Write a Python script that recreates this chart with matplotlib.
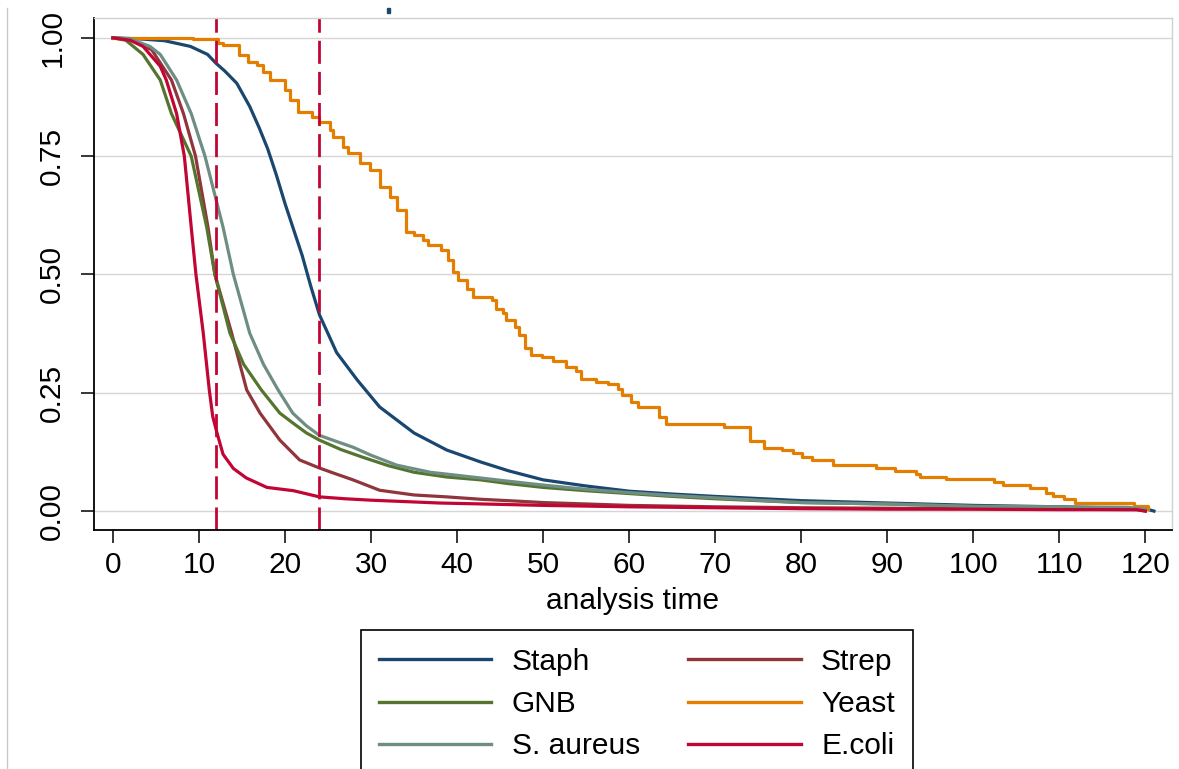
import matplotlib
matplotlib.use("Agg")
import matplotlib.pyplot as plt
from matplotlib.lines import Line2D

plt.rcParams['font.family'] = ['Liberation Sans', 'DejaVu Sans']

# survival curves (time, proportion)
staph_t = [0, 3, 6, 9, 11, 12, 13, 14.4, 15.9, 17, 18, 19, 20, 21, 22, 23, 24, 26, 28.4,
           31, 35, 38.8, 42.7, 46, 50, 55, 60, 65, 70, 80, 90, 100, 110, 120, 121]
staph_s = [1.0, 0.998, 0.994, 0.982, 0.965, 0.946, 0.93, 0.904, 0.855, 0.81, 0.765, 0.71,
           0.65, 0.595, 0.54, 0.475, 0.415, 0.335, 0.277, 0.22, 0.165, 0.129, 0.104,
           0.085, 0.066, 0.053, 0.042, 0.036, 0.031, 0.022, 0.017, 0.012, 0.009, 0.005, 0.0]

strep_t = [0, 2, 4.5, 6.8, 8.2, 9.6, 11.05, 11.85, 13.8, 15.55, 17.1, 19.4, 21.7, 24, 26,
           27.9, 31, 35, 38.8, 42.7, 47, 50, 55, 60, 70, 80, 90, 100, 110, 119, 120]
strep_s = [1.0, 0.997, 0.975, 0.911, 0.84, 0.75, 0.60, 0.50, 0.376, 0.256, 0.207, 0.15,
           0.108, 0.091, 0.078, 0.066, 0.044, 0.034, 0.03, 0.025, 0.021, 0.018, 0.015,
           0.012, 0.009, 0.007, 0.006, 0.005, 0.004, 0.003, 0.0]

gnb_t = [0, 1.5, 3.5, 5.5, 6.8, 9.1, 10.9, 11.85, 13.6, 15.2, 17.25, 19.4, 21, 22.5, 24,
         26.5, 29, 32, 35, 38.8, 42.7, 46, 50, 55, 60, 65, 70, 80, 90, 100, 110, 120]
gnb_s = [1.0, 0.995, 0.965, 0.911, 0.84, 0.75, 0.60, 0.50, 0.376, 0.31, 0.256, 0.207,
         0.185, 0.165, 0.15, 0.13, 0.114, 0.096, 0.082, 0.072, 0.066, 0.058, 0.05, 0.043,
         0.037, 0.031, 0.026, 0.018, 0.015, 0.01, 0.008, 0.004]

yeast_t = [0, 9.3, 12.2, 12.8, 14.6, 15.7, 16.7, 17.5, 18.2, 20.0, 20.6, 21.5, 23.1, 23.9,
           25.2, 25.6, 26.8, 27.3, 28.7, 29.9, 31.0, 32.2, 33.0, 34.1, 35.0, 36.0, 36.6,
           38.1, 38.9, 39.5, 40.1, 41.2, 41.8, 44.1, 44.5, 45.3, 45.7, 46.7, 47.2, 47.9,
           48.6, 49.9, 51.1, 52.7, 53.8, 54.4, 56.1, 57.5, 58.7, 59.2, 60.2, 61.0, 63.5,
           64.3, 71.0, 74.1, 75.7, 77.8, 79.0, 80.1, 81.3, 83.7, 88.7, 90.9, 93.3, 93.8,
           96.8, 102.4, 103.4, 106.6, 108.5, 109.3, 110.5, 111.8, 118.7, 120.3]
yeast_s = [1.0, 0.997, 0.99, 0.984, 0.964, 0.95, 0.943, 0.928, 0.911, 0.89, 0.869, 0.844,
           0.833, 0.822, 0.805, 0.791, 0.77, 0.757, 0.735, 0.72, 0.685, 0.664, 0.636, 0.59,
           0.583, 0.572, 0.562, 0.551, 0.53, 0.505, 0.488, 0.47, 0.453, 0.446, 0.428,
           0.418, 0.403, 0.389, 0.372, 0.344, 0.329, 0.325, 0.317, 0.305, 0.296, 0.28,
           0.273, 0.268, 0.259, 0.245, 0.231, 0.22, 0.199, 0.184, 0.177, 0.148, 0.134,
           0.129, 0.122, 0.115, 0.108, 0.097, 0.091, 0.085, 0.078, 0.072, 0.067, 0.062,
           0.055, 0.049, 0.038, 0.032, 0.026, 0.018, 0.011, 0.005]

saur_t = [0, 2, 4.3, 5.5, 7.4, 9.1, 10.7, 12.8, 14.0, 15.9, 17.5, 19.2, 20.9, 22.5, 24, 26,
          27.9, 30, 33, 36.9, 42.7, 47, 50, 55, 60, 65, 70, 80, 90, 100, 110, 118, 120]
saur_s = [1.0, 0.998, 0.982, 0.965, 0.911, 0.84, 0.75, 0.60, 0.50, 0.376, 0.31, 0.256,
          0.207, 0.18, 0.16, 0.147, 0.135, 0.118, 0.097, 0.082, 0.07, 0.061, 0.055, 0.046,
          0.039, 0.033, 0.028, 0.018, 0.015, 0.01, 0.009, 0.008, 0.004]

ecoli_t = [0, 2, 3.5, 5.5, 6.2, 7.4, 8.3, 9.1, 9.65, 10.5, 11.2, 11.6, 12.1, 12.8, 14,
           15.5, 17.9, 21, 24, 27, 30, 34, 38, 43, 50, 60, 70, 80, 90, 100, 110, 119, 120]
ecoli_s = [1.0, 0.995, 0.982, 0.94, 0.911, 0.84, 0.75, 0.60, 0.50, 0.376, 0.256, 0.2,
           0.165, 0.12, 0.09, 0.07, 0.05, 0.043, 0.03, 0.026, 0.023, 0.02, 0.017, 0.015,
           0.012, 0.009, 0.007, 0.005, 0.004, 0.004, 0.003, 0.003, 0.0]

cutoffs = [12, 24]
xticks = list(range(0, 121, 10))
yticks = [0.0, 0.25, 0.5, 0.75, 1.0]

c_navy = '#1a476f'
c_maroon = '#90353b'
c_green = '#55752f'
c_orange = '#e37e00'
c_teal = '#6e8e84'
c_cran = '#c10534'

fs = 21.5
fig = plt.figure(figsize=(11.79, 7.69), dpi=100)
ax = fig.add_axes([94 / 1179, 1 - 530 / 769, (1172 - 94) / 1179, (530 - 18) / 769])

lw = 2.3
ax.plot(staph_t, staph_s, color=c_navy, lw=lw, label='Staph')
ax.plot(strep_t, strep_s, color=c_maroon, lw=lw, label='Strep')
ax.plot(gnb_t, gnb_s, color=c_green, lw=lw, label='GNB')
ax.plot(yeast_t, yeast_s, color=c_orange, lw=lw, drawstyle='steps-post', label='Yeast')
ax.plot(saur_t, saur_s, color=c_teal, lw=lw, label='S. aureus')
ax.plot(ecoli_t, ecoli_s, color=c_cran, lw=lw, label='E.coli')

for c in cutoffs:
    ax.axvline(c, color=c_cran, lw=2.0, dashes=(8.3, 2.9))

ax.set_xlim(-2.2, 123.1)
ax.set_ylim(-0.04, 1.042)
ax.set_xticks(xticks)
ax.set_yticks(yticks)
ax.set_yticklabels(['%.2f' % v for v in yticks], rotation=90, va='center')
ax.grid(axis='y', color='#d6d6d6', lw=1.0)
ax.set_axisbelow(True)

for s in ['left', 'bottom']:
    ax.spines[s].set_color('black')
    ax.spines[s].set_linewidth(1.3)
for s in ['top', 'right']:
    ax.spines[s].set_color('#d0d0d0')
    ax.spines[s].set_linewidth(1.0)

ax.tick_params(axis='x', length=9.4, width=1.1, pad=5.5, labelsize=fs)
ax.tick_params(axis='y', length=9.4, width=1.1, pad=10.5, labelsize=fs)
ax.set_xlabel('analysis time', fontsize=fs, labelpad=6)

h = {l.get_label(): l for l in ax.get_lines() if not l.get_label().startswith('_')}
order = ['Staph', 'GNB', 'S. aureus', 'Strep', 'Yeast', 'E.coli']
handles = [Line2D([], [], color=h[k].get_color(), lw=2.4) for k in order]
leg = ax.legend(handles, order, loc='upper left', bbox_to_anchor=(361 / 1179, 1 - 630 / 769),
                bbox_transform=fig.transFigure, ncol=2, fontsize=fs, frameon=True,
                fancybox=False, edgecolor='black', framealpha=1, handlelength=3.77,
                handletextpad=0.67, columnspacing=1.63, borderpad=0.6, labelspacing=0.47,
                borderaxespad=0)
leg.get_frame().set_linewidth(1.2)

# outer frame line and stray mark at the top
fig.add_artist(Line2D([7 / 1179, 7 / 1179], [0, 1 - 8 / 769], color='#c8c8c8', lw=1.0,
                      transform=fig.transFigure))
fig.add_artist(plt.Rectangle((387 / 1179, 1 - 13 / 769), 3 / 1179, 5 / 769,
                             color=c_navy, transform=fig.transFigure))

fig.savefig('out.png', dpi=100)
